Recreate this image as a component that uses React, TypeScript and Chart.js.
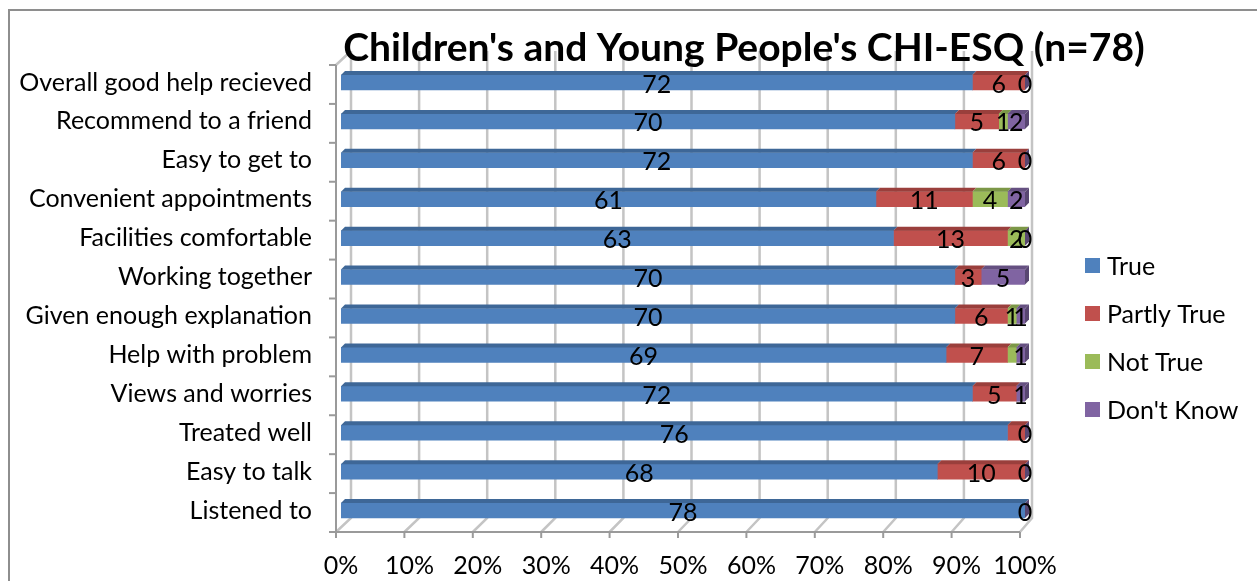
import React, { useEffect, useRef } from "react";
import { Chart, registerables } from "chart.js";

Chart.register(...registerables);

// Survey items, listed top to bottom
const categories = [
  "Overall good help recieved",
  "Recommend to a friend",
  "Easy to get to",
  "Convenient appointments",
  "Facilities comfortable",
  "Working together",
  "Given enough explanation",
  "Help with problem",
  "Views and worries",
  "Treated well",
  "Easy to talk",
  "Listened to",
];

const seriesNames = ["True", "Partly True", "Not True", "Don't Know"];

// Response counts per item (null = no response recorded)
const trueVals: (number | null)[] = [72, 70, 72, 61, 63, 70, 70, 69, 72, 76, 68, 78];
const partlyVals: (number | null)[] = [6, 5, 6, 11, 13, 3, 6, 7, 5, 2, 10, null];
const notTrueVals: (number | null)[] = [null, 1, null, 4, 2, null, 1, 1, null, null, null, null];
const dontKnowVals: (number | null)[] = [0, 2, 0, 2, 0, 5, 1, 1, 1, 0, 0, 0];

// Value labels that are left off: [item index, series index]
const hiddenLabels: [number, number][] = [
  [9, 1],
  [7, 2],
];

const xTickValues = [0, 10, 20, 30, 40, 50, 60, 70, 80, 90, 100];

const titleText = "Children's and Young People's CHI-ESQ (n=78)";

const seriesColors = ["#4F81BD", "#C0504D", "#9BBB59", "#8064A2"];
const topColors = ["#3E6797", "#9A3F3C", "#7C9747", "#655081"];
const sideColors = ["#365A85", "#873735", "#6C843E", "#584671"];

const FONT = "Lato, 'Open Sans', sans-serif";
const LABEL_SIZE = 25;

const allSeries = [trueVals, partlyVals, notTrueVals, dontKnowVals];
const rowTotals = categories.map((_, i) =>
  allSeries.reduce((s, arr) => s + (arr[i] ?? 0), 0)
);
const toPercent = (arr: (number | null)[]) =>
  arr.map((v, i) => (v === null ? null : (v / rowTotals[i]) * 100));

const DX = 4;
const DY = 4;

// Back wall, floor and axes of the 3-D frame
const framePlugin = {
  id: "frame3d",
  beforeDatasetsDraw(chart: any) {
    const { ctx, chartArea } = chart;
    const { top, bottom } = chartArea;
    const xs = chart.scales.x;
    const backTop = top - 12;
    const backBottom = bottom - 12;
    const frontTop = top + 2;
    const frontBottom = bottom + 2;
    ctx.save();
    ctx.lineCap = "butt";
    const front = (v: number) => xs.getPixelForValue(v) - 5;
    const back = (v: number) => xs.getPixelForValue(v) + 10 - v * 0.03;
    // grid lines on back wall and floor
    ctx.strokeStyle = "#c4c4c4";
    ctx.lineWidth = 2.5;
    for (const v of xTickValues) {
      ctx.beginPath();
      ctx.moveTo(back(v), backTop);
      ctx.lineTo(back(v), backBottom);
      ctx.lineTo(front(v), frontBottom);
      ctx.stroke();
    }
    // side wall top edge
    ctx.beginPath();
    ctx.moveTo(front(0), frontTop);
    ctx.lineTo(back(0), backTop);
    ctx.stroke();
    // axes
    ctx.strokeStyle = "#9a9a9a";
    ctx.lineWidth = 2;
    ctx.beginPath();
    ctx.moveTo(front(0), frontTop);
    ctx.lineTo(front(0), frontBottom);
    ctx.lineTo(front(100), frontBottom);
    ctx.stroke();
    for (const v of xTickValues) {
      ctx.beginPath();
      ctx.moveTo(front(v), frontBottom);
      ctx.lineTo(front(v), frontBottom + 6);
      ctx.stroke();
    }
    const n = categories.length;
    for (let k = 0; k <= n; k++) {
      const y = frontTop + (k * (frontBottom - frontTop)) / n;
      ctx.beginPath();
      ctx.moveTo(front(0) - 7, y);
      ctx.lineTo(front(0), y);
      ctx.stroke();
    }
    ctx.restore();
  },
};

// Top faces and end caps of the bars, then the value labels
const barFacesPlugin = {
  id: "barFaces",
  afterDatasetsDraw(chart: any) {
    const { ctx } = chart;
    const datasets = chart.data.datasets;
    ctx.save();
    const ends: { x: number; t: number; b: number; color: string }[] = [];
    datasets.forEach((ds: any, d: number) => {
      const meta = chart.getDatasetMeta(d);
      meta.data.forEach((el: any, i: number) => {
        if (ds.data[i] === null || ds.data[i] === undefined) return;
        const { x, y, base, height } = el.getProps(["x", "y", "base", "height"], true);
        const t = y - height / 2;
        const b = y + height / 2;
        const x0 = Math.min(base, x);
        const x1 = Math.max(base, x);
        if (x1 - x0 > 0.01) {
          ctx.fillStyle = topColors[d];
          ctx.beginPath();
          ctx.moveTo(x0, t);
          ctx.lineTo(x1, t);
          ctx.lineTo(x1 + DX, t - DY);
          ctx.lineTo(x0 + DX, t - DY);
          ctx.closePath();
          ctx.fill();
        }
        if (!ends[i] || x1 >= ends[i].x) {
          ends[i] = { x: x1, t, b, color: sideColors[d] };
        }
      });
    });
    ends.forEach((e) => {
      if (!e) return;
      ctx.fillStyle = e.color;
      ctx.beginPath();
      ctx.moveTo(e.x, e.t);
      ctx.lineTo(e.x + DX, e.t - DY);
      ctx.lineTo(e.x + DX, e.b - DY);
      ctx.lineTo(e.x, e.b);
      ctx.closePath();
      ctx.fill();
    });

    ctx.fillStyle = "#000";
    ctx.font = `${LABEL_SIZE}px ${FONT}`;
    ctx.textAlign = "center";
    ctx.textBaseline = "middle";
    datasets.forEach((ds: any, d: number) => {
      const meta = chart.getDatasetMeta(d);
      meta.data.forEach((el: any, i: number) => {
        const raw = allSeries[d][i];
        if (raw === null) return;
        if (hiddenLabels.some(([r, s]) => r === i && s === d)) return;
        const { x, y, base } = el.getProps(["x", "y", "base"], true);
        ctx.fillText(String(raw), (x + base) / 2, y + 2);
      });
    });
    ctx.restore();
  },
};

// Chart title and legend
const titleLegendPlugin = {
  id: "titleLegend",
  afterDraw(chart: any) {
    const { ctx } = chart;
    ctx.save();
    ctx.fillStyle = "#000";
    ctx.font = `bold 39px ${FONT}`;
    ctx.textAlign = "center";
    ctx.textBaseline = "alphabetic";
    ctx.fillText(titleText, 734, 50);

    ctx.font = `${LABEL_SIZE}px ${FONT}`;
    ctx.textAlign = "left";
    ctx.textBaseline = "middle";
    chart.data.datasets.forEach((ds: any, d: number) => {
      const cy = 254.5 + d * 48;
      ctx.fillStyle = ds.backgroundColor;
      ctx.fillRect(1075, cy - 7.5, 15, 15);
      ctx.fillStyle = "#000";
      ctx.fillText(ds.label, 1097, cy + 1);
    });
    ctx.restore();
  },
};

export default function App() {
  const ref = useRef<HTMLCanvasElement>(null);

  useEffect(() => {
    if (!ref.current) return;
    const chart = new Chart(ref.current, {
      type: "bar",
      data: {
        labels: categories,
        datasets: allSeries.map((arr, d) => ({
          label: seriesNames[d],
          data: toPercent(arr),
          backgroundColor: seriesColors[d],
          borderWidth: 0,
          barThickness: 15,
        })),
      },
      options: {
        indexAxis: "y",
        responsive: false,
        animation: false,
        layout: { padding: { top: 52, right: 232, left: 0, bottom: 0 } },
        plugins: {
          legend: { display: false },
          title: { display: false },
          tooltip: { enabled: false },
        },
        scales: {
          x: {
            stacked: true,
            min: 0,
            max: 100,
            grid: { display: false },
            border: { display: false },
            afterFit: (s: any) => {
              s.height = 51;
            },
            ticks: {
              stepSize: 10,
              padding: 13,
              maxRotation: 0,
              minRotation: 0,
              autoSkip: false,
              color: "#000",
              font: { family: FONT, size: LABEL_SIZE },
              callback: (v: any) => `${v}%`,
            },
          },
          y: {
            stacked: true,
            grid: { display: false },
            border: { display: false },
            afterFit: (s: any) => {
              s.width = 331;
            },
            ticks: {
              padding: 21,
              color: "#000",
              font: { family: FONT, size: LABEL_SIZE },
            },
          },
        },
      },
      plugins: [framePlugin, barFacesPlugin, titleLegendPlugin],
    });
    return () => chart.destroy();
  }, []);

  return (
    <div
      style={{
        position: "absolute",
        left: 8,
        top: 9,
        width: 1249,
        height: 572,
        borderTop: "2px solid #8e8e8e",
        borderLeft: "2px solid #8e8e8e",
        boxSizing: "border-box",
        background: "#fff",
      }}
    >
      <canvas ref={ref} width={1247} height={570} style={{ display: "block" }} />
    </div>
  );
}
